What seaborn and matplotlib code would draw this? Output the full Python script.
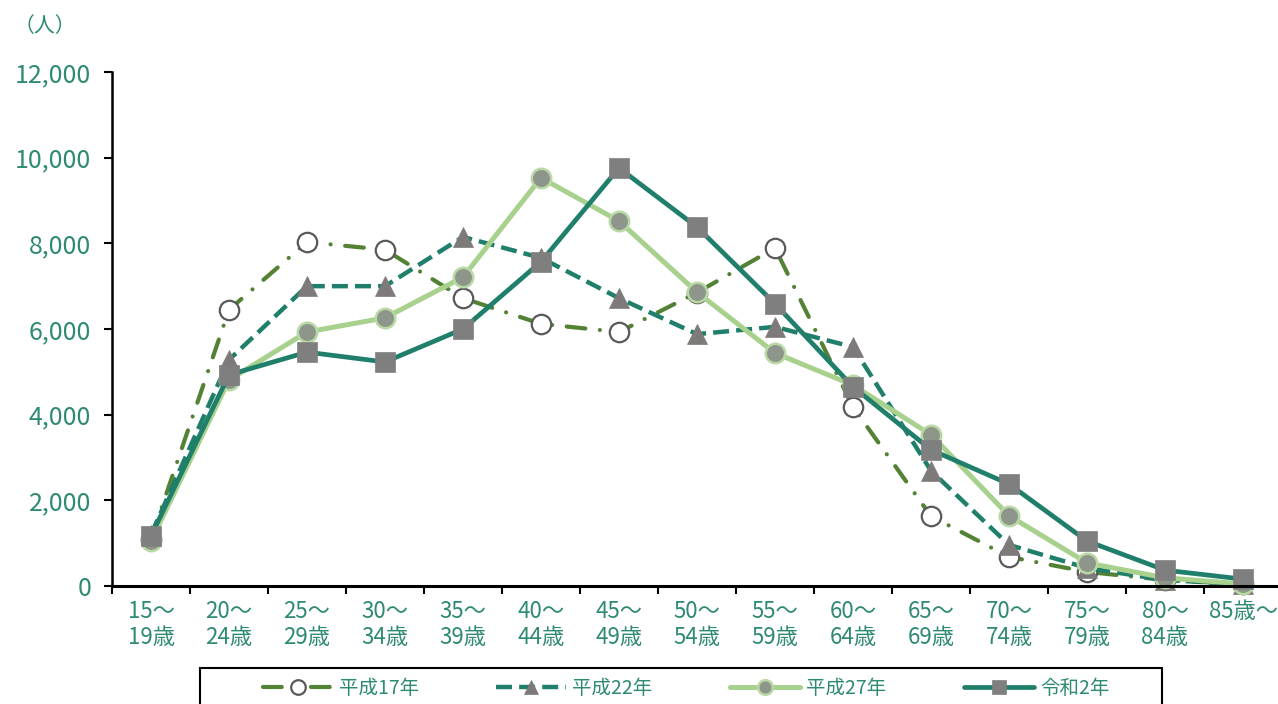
import numpy as np
import pandas as pd
import matplotlib
matplotlib.use("Agg")
import matplotlib.pyplot as plt
import seaborn as sns
from matplotlib.patches import Rectangle
from matplotlib.ticker import FixedLocator, FuncFormatter

# ---- data ----
categories = ["15～\n19歳", "20～\n24歳", "25～\n29歳", "30～\n34歳", "35～\n39歳",
              "40～\n44歳", "45～\n49歳", "50～\n54歳", "55～\n59歳", "60～\n64歳",
              "65～\n69歳", "70～\n74歳", "75～\n79歳", "80～\n84歳", "85歳～"]
series_names = ["平成17年", "平成22年", "平成27年", "令和2年"]
h17 = [1100, 6450, 8030, 7850, 6720, 6120, 5930, 6850, 7890, 4180, 1630, 680, 330, 140, 40]
h22 = [1200, 5280, 7000, 7000, 8150, 7660, 6720, 5880, 6050, 5580, 2690, 960, 420, 140, 40]
h27 = [1050, 4810, 5930, 6260, 7210, 9530, 8520, 6860, 5440, 4690, 3530, 1640, 540, 190, 50]
r2 = [1170, 4930, 5460, 5230, 6000, 7570, 9760, 8380, 6590, 4650, 3180, 2380, 1050, 370, 160]
y_ticks = [0, 2000, 4000, 6000, 8000, 10000, 12000]

text_color = "#2E8A72"

sns.set_theme(style="white")
plt.rcParams["font.family"] = ["Noto Sans CJK JP", "DejaVu Sans"]

W, H = 1278, 704
fig = plt.figure(figsize=(W / 100, H / 100), dpi=100)
ax = fig.add_axes([112 / W, 118 / H, 1170 / W, 514 / H])

x = np.arange(len(categories))

styles = [
    dict(data=h17, color="#548235", lw=3.0, ls=(0, (4.5, 3.5, 0.01, 3.5)), marker="o",
         mfc="white", mec="#595959", mew=1.6, ms=14, cap="round"),
    dict(data=h22, color="#1F7F6A", lw=3.2, ls=(0, (3.6, 1.6)), marker="^",
         mfc="#7F7A7A", mec="#7F7A7A", mew=0.5, ms=14, cap="butt"),
    dict(data=h27, color="#A9D18E", lw=3.6, ls="-", marker="o",
         mfc="#8E958A", mec="#B8D8A4", mew=1.8, ms=14, cap="butt"),
    dict(data=r2, color="#1F7F6A", lw=3.4, ls="-", marker="s",
         mfc="#7F7F7F", mec="#7F7F7F", mew=0.5, ms=14, cap="butt"),
]

for name, st in zip(series_names, styles):
    sns.lineplot(x=x, y=st["data"], ax=ax, color=st["color"], linewidth=st["lw"],
                 linestyle=st["ls"], marker=st["marker"], markersize=st["ms"],
                 markerfacecolor=st["mfc"], markeredgecolor=st["mec"],
                 markeredgewidth=st["mew"], label=name, legend=False, clip_on=False)
    ax.lines[-1].set_dash_capstyle(st["cap"])

ax.set_xlim(-0.5, len(categories) - 0.5)
ax.set_ylim(0, 12000)
ax.yaxis.set_major_locator(FixedLocator(y_ticks))
ax.yaxis.set_major_formatter(FuncFormatter(lambda v, p: f"{int(v):,}"))
ax.set_xticks(x)
ax.set_xticklabels(categories)
ax.set_xticks(np.arange(-0.5, len(categories), 1.0), minor=True)
ax.tick_params(axis="x", which="major", length=0, pad=10, labelsize=16, labelcolor=text_color)
ax.tick_params(axis="x", which="minor", length=6, width=1.5, color="black", direction="out", bottom=True)
ax.tick_params(axis="y", which="major", length=6, width=1.5, color="black", direction="out",
               left=True, labelsize=18, labelcolor=text_color, pad=9)
for lab in ax.get_xticklabels():
    lab.set_linespacing(1.15)

for s in ["top", "right"]:
    ax.spines[s].set_visible(False)
ax.spines["left"].set_color("black")
ax.spines["left"].set_linewidth(1.8)
ax.spines["bottom"].set_color("black")
ax.spines["bottom"].set_linewidth(2.2)
ax.set_xlabel("")
ax.set_ylabel("")

fig.text(14 / W, 1 - 26 / H, "（人）", color=text_color, fontsize=15, va="center", ha="left")

# legend box (frame drawn separately, extends beyond the bottom edge)
fig.patches.append(Rectangle((200 / W, 1 - 712 / H), 962 / W, 44 / H,
                             transform=fig.transFigure, facecolor="white",
                             edgecolor="black", linewidth=1.5, zorder=5))
handles, labels = ax.get_legend_handles_labels()
leg = fig.legend(handles, labels, loc="center",
                 bbox_to_anchor=(686 / W, 1 - 688 / H),
                 ncol=4, frameon=False, fontsize=14, handlelength=3.6,
                 markerscale=0.75, labelcolor=text_color, handletextpad=0.3,
                 columnspacing=4.0, borderaxespad=0, borderpad=0)
leg.set_zorder(6)

fig.savefig("out.png", dpi=100)
